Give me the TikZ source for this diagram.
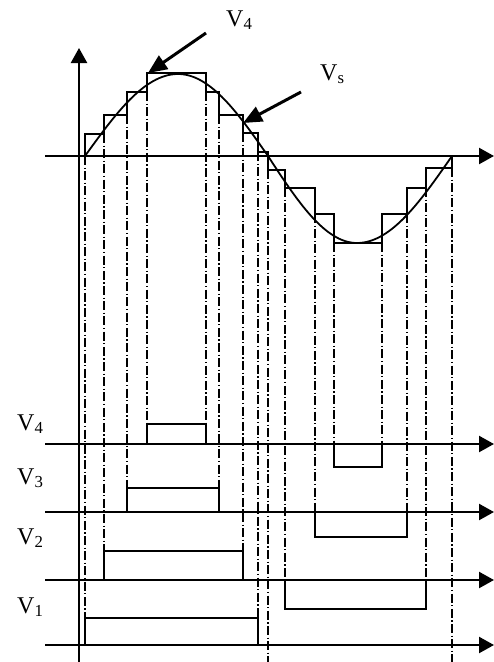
\documentclass[tikz,border=0pt]{standalone}
\usepackage{fontspec}
\setmainfont{Liberation Serif}
\usetikzlibrary{arrows.meta}

\begin{document}
\begin{tikzpicture}[
      x=1pt, y=-1pt,
      axis/.style={line width=2.3pt, -{Triangle[length=15pt,width=16pt]}},
      wave/.style={line width=1.8pt},
      guide/.style={line width=1.8pt, dash pattern=on 9pt off 2.5pt on 1.2pt off 2.5pt},
      pointer/.style={line width=3pt, -{Triangle[length=19pt,width=16pt]}},
      every node/.style={font=\fontsize{24}{28}\selectfont, inner sep=0pt, anchor=base west}
    ]
      \useasboundingbox (0,0) rectangle (494,662);
      \draw[axis] (79,662) -- (79,48);
      \draw[axis] (45,156) -- (494,156);
      \draw[axis] (45,444) -- (494,444);
      \draw[axis] (45,512) -- (494,512);
      \draw[axis] (45,580) -- (494,580);
      \draw[axis] (45,645) -- (494,645);
      \draw[wave] (85,156) sin (178,74) cos (268,156) sin (357,243) cos (452,156);
      \draw[wave] (85,156) |- (104,134) |- (127,115) |- (147,92) |- (206,73) |- (219,92)
        |- (243,115) |- (258,133) |- (268,152) |- (285,170) |- (315,188) |- (334,214)
        |- (382,243) |- (407,214) |- (426,188) |- (452,168) -- (452,156);
      \draw[guide] (85,156) -- (85,618) (104,134) -- (104,551) (127,115) -- (127,488)
        (147,92) -- (147,424) (206,92) -- (206,424) (219,115) -- (219,488)
        (243,133) -- (243,551) (258,152) -- (258,618) (268,170) -- (268,662)
        (285,188) -- (285,580) (315,214) -- (315,512) (334,243) -- (334,444)
        (382,243) -- (382,444) (407,214) -- (407,512) (426,188) -- (426,580)
        (452,168) -- (452,662);
      \draw[wave] (147,444) |- (206,424) -- (206,444) (334,444) |- (382,467) -- (382,444);
      \draw[wave] (127,512) |- (219,488) -- (219,512) (315,512) |- (407,537) -- (407,512);
      \draw[wave] (104,580) |- (243,551) -- (243,580) (285,580) |- (426,609) -- (426,580);
      \draw[wave] (85,645) |- (258,618) -- (258,645);
      \coordinate (peak tail) at (206,33);
      \coordinate (peak tip) at (148,73);
      \coordinate (sine tail) at (301,92);
      \coordinate (sine tip) at (243,123);
      \draw[pointer] (peak tail) -- (peak tip);
      \draw[pointer] (sine tail) -- (sine tip);
      \node (v4 top) at (226,26) {V\textsubscript{4}};
      \node (vs) at (320,80) {V\textsubscript{s}};
      \node (v4) at (17,430) {V\textsubscript{4}};
      \node (v3) at (17,484) {V\textsubscript{3}};
      \node (v2) at (17,544) {V\textsubscript{2}};
      \node (v1) at (17,613) {V\textsubscript{1}};
    \end{tikzpicture}
\end{document}
